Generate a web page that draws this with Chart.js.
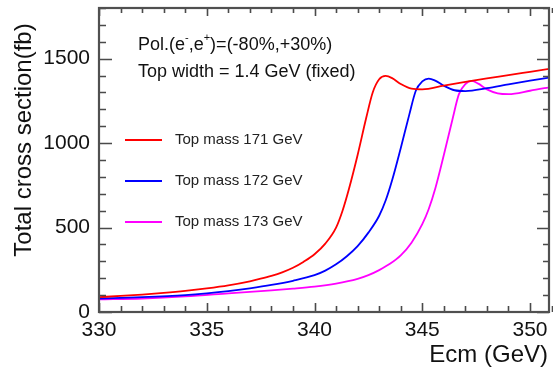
<!DOCTYPE html>
<html>
<head>
<meta charset="utf-8">
<script src="https://cdn.jsdelivr.net/npm/chart.js@4.4.1/dist/chart.umd.min.js"></script>
<style>
  html, body { margin: 0; padding: 0; background: #fff; }
  #wrap { width: 553px; height: 369px; position: relative; }
</style>
</head>
<body>
<div id="wrap"><canvas id="xsec"></canvas></div>
<script>
// energies (GeV) and cross sections (fb)
const e171 = [330, 331, 332, 333, 334, 335, 336, 337, 337.5, 338, 338.5, 339, 339.5, 340, 340.5, 341, 341.3, 341.6, 342, 342.4, 342.7, 343, 343.3, 343.6, 344, 344.5, 345, 346, 347, 348, 349, 350, 351];
const s171 = [88, 95, 103, 113, 125, 140, 158, 182, 197, 214, 235, 262, 298, 342, 405, 500, 600, 730, 930, 1150, 1300, 1378, 1398, 1385, 1350, 1322, 1318, 1340, 1362, 1383, 1402, 1422, 1442];

const e172 = [330, 332, 334, 335, 336, 337, 338, 339, 340, 340.5, 341, 341.5, 342, 342.5, 343, 343.3, 343.6, 344, 344.4, 344.7, 345, 345.3, 345.6, 346, 346.5, 347, 348, 349, 350, 351];
const s172 = [80, 88, 100, 110, 123, 140, 160, 185, 218, 245, 282, 330, 390, 470, 570, 660, 780, 970, 1170, 1310, 1365, 1382, 1370, 1340, 1313, 1308, 1325, 1348, 1370, 1390];

const e173 = [330, 332, 334, 336, 338, 339, 340, 341, 342, 342.5, 343, 343.5, 344, 344.5, 345, 345.3, 345.6, 346, 346.4, 346.7, 347, 347.3, 347.6, 348, 348.5, 349, 350, 351];
const s173 = [75, 80, 92, 110, 128, 138, 150, 168, 196, 218, 248, 285, 335, 410, 520, 610, 730, 930, 1140, 1290, 1350, 1368, 1352, 1318, 1295, 1290, 1310, 1333];

const seriesNames = ['Top mass 171 GeV', 'Top mass 172 GeV', 'Top mass 173 GeV'];
const seriesColors = ['#ff0000', '#0000ff', '#ff00ff'];

const xMajor = [330, 335, 340, 345, 350];
const yMajor = [0, 500, 1000, 1500];

const pts = (xs, ys) => xs.map((x, i) => ({ x: x, y: ys[i] }));

const FONT = "'Liberation Sans', Arial, sans-serif";

// frame, inward ticks, annotations and hand-made legend
const decor = {
  id: 'decor',
  afterDraw(chart) {
    const { ctx, chartArea: a, scales: { x, y } } = chart;
    ctx.save();
    ctx.strokeStyle = '#4a4a4a';
    ctx.lineWidth = 1.6;
    // minor + major ticks
    for (let v = 330; v <= 351; v++) {
      const px = Math.round(x.getPixelForValue(v)) + 0.5;
      const major = v % 5 === 0;
      ctx.beginPath();
      ctx.moveTo(px, a.bottom); ctx.lineTo(px, a.bottom - (major ? 9 : 6));
      ctx.moveTo(px, a.top); ctx.lineTo(px, a.top + (major ? 8 : 5));
      ctx.stroke();
    }
    for (let v = 0; v <= 1800; v += 100) {
      const py = Math.round(y.getPixelForValue(v)) + 0.5;
      const major = v % 500 === 0;
      ctx.beginPath();
      ctx.moveTo(a.left, py); ctx.lineTo(a.left + (major ? 13 : 7), py);
      ctx.moveTo(a.right, py); ctx.lineTo(a.right - (major ? 12 : 6), py);
      ctx.stroke();
    }
    // frame
    ctx.lineWidth = 2.2;
    ctx.strokeStyle = '#505050';
    ctx.strokeRect(a.left, a.top, a.right - a.left, a.bottom - a.top);

    // annotation text
    ctx.fillStyle = '#111';
    ctx.textBaseline = 'middle';
    ctx.textAlign = 'left';
    let tx = 138;
    const ty = 45;
    const part = (s, f, dy) => {
      ctx.font = f;
      ctx.fillText(s, tx, ty + (dy || 0));
      tx += ctx.measureText(s).width;
    };
    part('Pol.(e', '18px ' + FONT);
    part('-', '11px ' + FONT, -7);
    part(',e', '18px ' + FONT);
    part('+', '11px ' + FONT, -7);
    part(')=(-80%,+30%)', '18px ' + FONT);
    ctx.font = '18px ' + FONT;
    ctx.fillText('Top width = 1.4 GeV (fixed)', 138, 72);

    // legend
    const ly = [140, 181, 222];
    seriesNames.forEach((name, i) => {
      ctx.strokeStyle = seriesColors[i];
      ctx.lineWidth = 1.8;
      ctx.beginPath();
      ctx.moveTo(125, ly[i]); ctx.lineTo(162, ly[i]);
      ctx.stroke();
      ctx.fillStyle = '#222';
      ctx.font = '15px ' + FONT;
      ctx.fillText(name, 175, ly[i]);
    });

    // axis titles
    ctx.fillStyle = '#111';
    ctx.font = '24px ' + FONT;
    ctx.textAlign = 'right';
    ctx.fillText('Ecm (GeV)', 548, 355);
    ctx.save();
    ctx.translate(31, 140);
    ctx.rotate(-Math.PI / 2);
    ctx.textAlign = 'center';
    ctx.textBaseline = 'alphabetic';
    ctx.font = '24px ' + FONT;
    ctx.fillText('Total cross section(fb)', 0, 0);
    ctx.restore();
    ctx.restore();
  }
};

const mkSet = (i, xs, ys) => ({
  label: seriesNames[i],
  data: pts(xs, ys),
  borderColor: seriesColors[i],
  borderWidth: 1.8,
  pointRadius: 0,
  fill: false,
  cubicInterpolationMode: 'monotone'
});

new Chart(document.getElementById('xsec'), {
  type: 'line',
  data: {
    datasets: [
      mkSet(0, e171, s171),
      mkSet(1, e172, s172),
      mkSet(2, e173, s173)
    ]
  },
  options: {
    responsive: true,
    maintainAspectRatio: false,
    animation: false,
    layout: { padding: { left: 0, right: 4, top: 8, bottom: 0 } },
    plugins: { legend: { display: false }, tooltip: { enabled: false } },
    scales: {
      x: {
        type: 'linear',
        min: 330,
        max: 350.88,
        afterBuildTicks: s => { s.ticks = xMajor.map(v => ({ value: v })); },
        afterFit: s => { s.height = 57; s.paddingLeft = 0; s.paddingRight = 0; },
        grid: { display: false, drawTicks: false },
        border: { display: false },
        ticks: {
          autoSkip: false,
          maxRotation: 0,
          padding: 6,
          color: '#111',
          font: { family: FONT, size: 21 },
          callback: v => String(v)
        }
      },
      y: {
        min: 0,
        max: 1800,
        afterBuildTicks: s => { s.ticks = yMajor.map(v => ({ value: v })); },
        afterFit: s => { s.width = 99; s.paddingTop = 0; s.paddingBottom = 0; },
        grid: { display: false, drawTicks: false },
        border: { display: false },
        ticks: {
          autoSkip: false,
          padding: 9,
          color: '#111',
          font: { family: FONT, size: 21 },
          callback: v => String(v)
        }
      }
    }
  },
  plugins: [decor]
});
</script>
</body>
</html>
